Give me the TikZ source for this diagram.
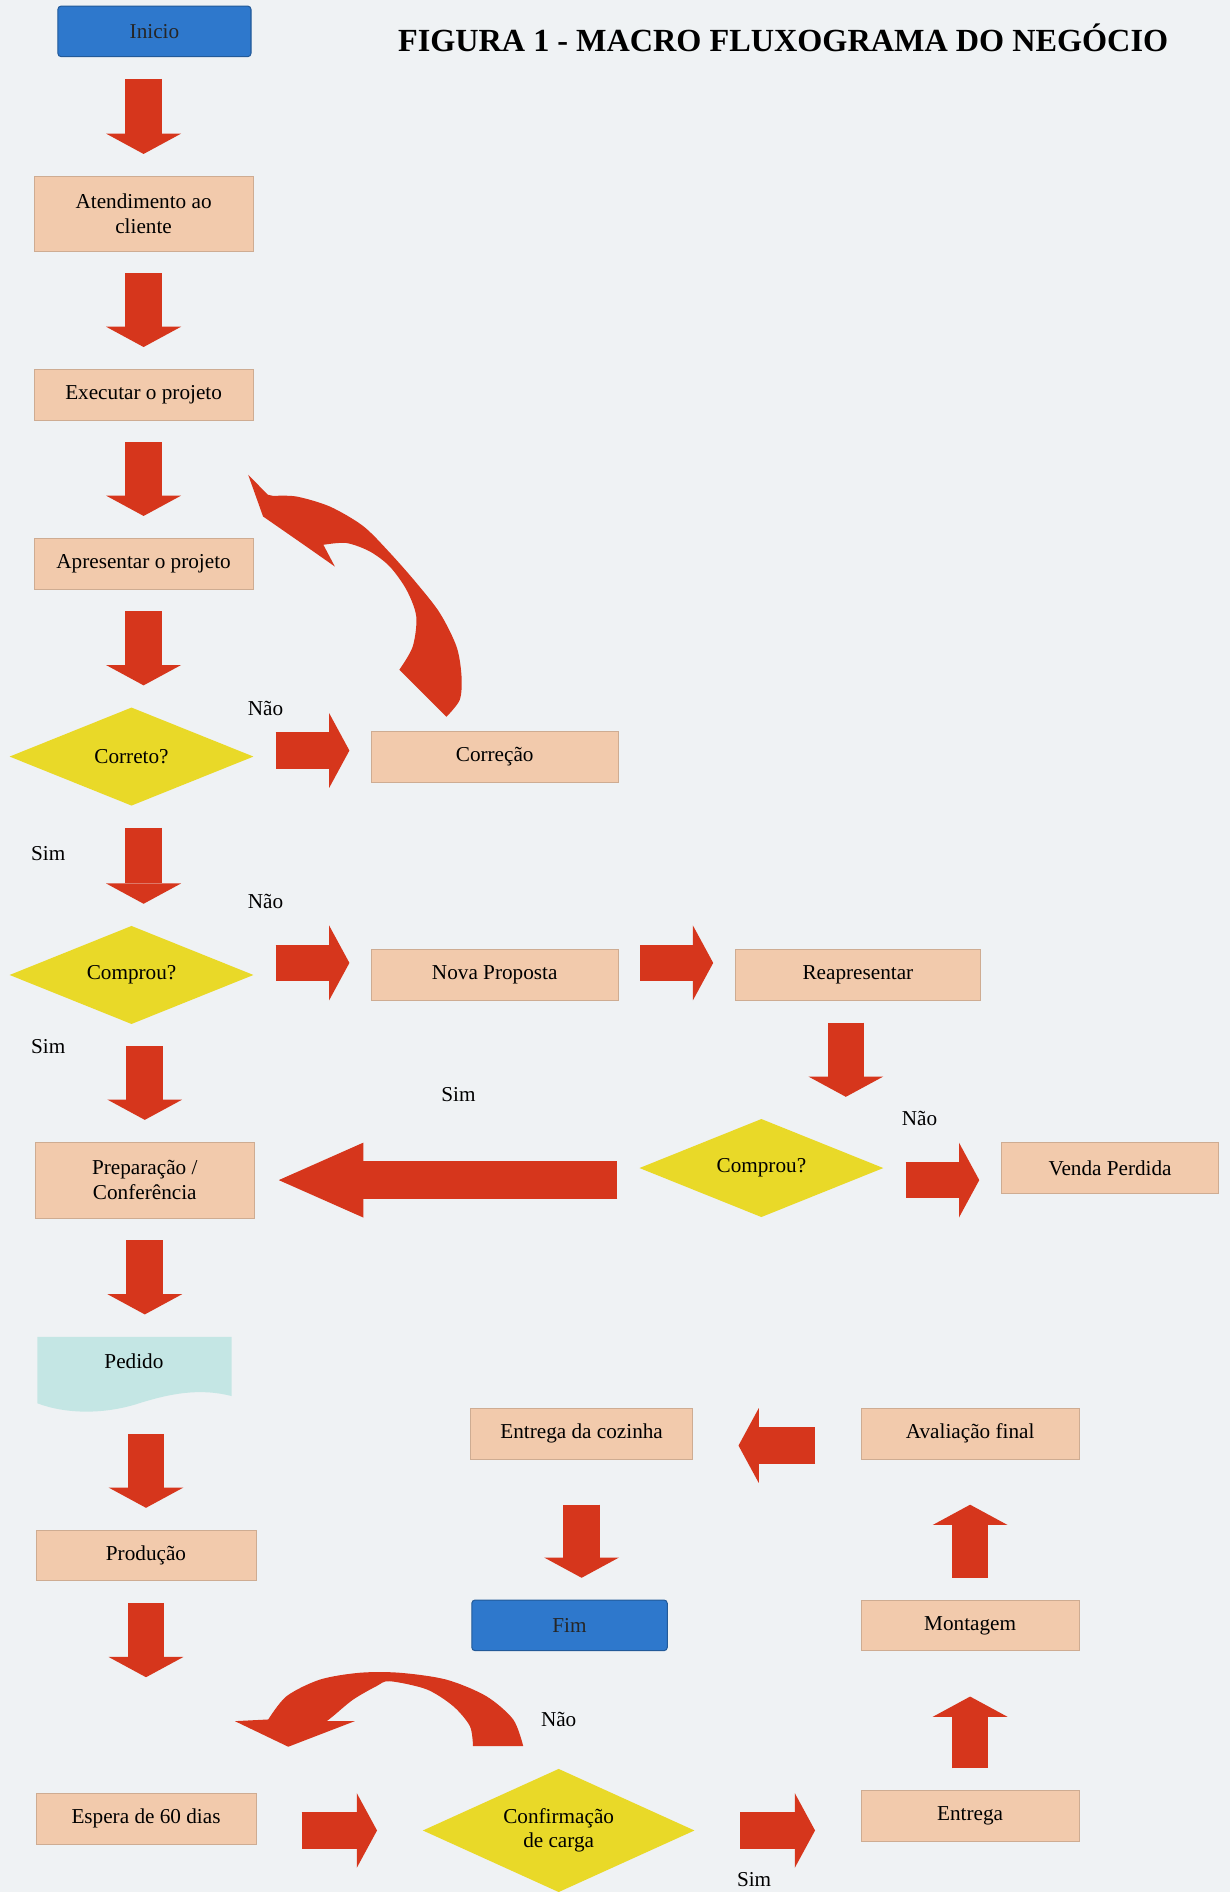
\documentclass[tikz,border=0pt]{standalone}
\usepackage{fontspec}
\setmainfont{Liberation Serif}
\usepackage{xcolor}
\usepackage{tikz}
\usetikzlibrary{shapes.geometric, arrows.meta, calc}

\definecolor{papel}{RGB}{239,242,244}
\definecolor{caixa}{RGB}{242,202,172}
\definecolor{azul}{RGB}{46,120,204}
\definecolor{amarelo}{RGB}{233,217,40}
\definecolor{vermelho}{RGB}{214,54,28}
\definecolor{ciano}{RGB}{196,230,228}

\tikzset{
  etapa/.style={rectangle, fill=caixa, draw=caixa!85!black, line width=0.3pt, minimum width=4.55cm, minimum height=1.05cm, align=center, inner sep=2pt, outer sep=0pt},
  terminal/.style={rectangle, rounded corners=2pt, fill=azul, draw=azul!75!black, line width=0.6pt, minimum width=4cm, minimum height=1.05cm, outer sep=0pt, text=black!85},
  decisao/.style={diamond, aspect=2.5, fill=amarelo, minimum width=5.05cm, minimum height=2.03cm, align=center, inner sep=0pt, outer sep=0pt},
  rotulo/.style={inner sep=0pt},
  seta/.style={draw=vermelho, line width=0.76cm, -{Triangle[width=1.55cm, length=0.42cm, line width=0pt]}, shorten <=0.46cm, shorten >=0.46cm},
  setalonga/.style={seta, shorten <=0.95cm, shorten >=0.95cm},
  setagrande/.style={draw=vermelho, line width=0.8cm, -{Triangle[width=1.55cm, length=1.75cm, line width=0pt]}, shorten <=0.46cm, shorten >=0.5cm},
}

\begin{document}
\begin{tikzpicture}[x=0.025cm, y=-0.025cm, font=\fontsize{12.5}{14.5}\selectfont]
    % Fundo
    \fill[papel] (0,0) rectangle (1019,1568);
    \useasboundingbox (0,0) rectangle (1019,1568);

    % Titulo
    \node[font=\fontsize{19}{22}\selectfont\bfseries] (titulo) at (649,31) {FIGURA 1 - MACRO FLUXOGRAMA DO NEGÓCIO};

    % Coluna da esquerda
    \node[terminal] (inicio) at (128,26) {Inicio};
    \node[etapa, minimum height=1.55cm] (atend) at (119,177) {Atendimento ao\\cliente};
    \node[etapa] (executar) at (119,327) {Executar o projeto};
    \node[etapa] (apresentar) at (119,467) {Apresentar o projeto};
    \node[decisao] (correto) at (109,627) {Correto?};
    \node[decisao] (comprou) at (109,808) {Comprou?};
    \node[etapa, minimum height=1.575cm] (prep) at (120,978) {Preparação /\\Conferência};
    \fill[ciano] (31,1108) -- (192,1108) -- (192,1157) .. controls (165,1150) and (140,1155) .. (112,1164) .. controls (85,1172) and (55,1172) .. (31,1163) -- cycle; % folha do pedido
    \node[rotulo, minimum width=4.025cm, minimum height=1cm] (pedido) at (111,1128) {Pedido};
    \node[etapa] (producao) at (121,1289) {Produção};
    \coordinate (prodfim) at (121,1390);
    \node[etapa] (espera) at (121,1507) {Espera de 60 dias};

    % Ramos da direita
    \node[etapa, minimum width=5.1cm] (correcao) at (410,627) {Correção};
    \node[etapa, minimum width=5.1cm] (nova) at (410,808) {Nova Proposta};
    \node[etapa, minimum width=5.075cm] (reap) at (711,808) {Reapresentar};
    \node[decisao] (comprou2) at (631,968) {Comprou?};
    \node[etapa, minimum width=4.5cm] (venda) at (920,968) {Venda Perdida};

    % Parte de baixo
    \node[decisao, aspect=2.2, minimum width=5.625cm, minimum height=2.55cm] (confirm) at (463,1517) {Confirmação\\de carga};
    \node[etapa, minimum width=4.525cm] (entrega) at (804,1505) {Entrega};
    \node[etapa, minimum width=4.525cm] (montagem) at (804,1347) {Montagem};
    \node[etapa, minimum width=4.525cm] (aval) at (804,1188) {Avaliação final};
    \node[etapa, minimum width=4.6cm] (ecoz) at (482,1188) {Entrega da cozinha};
    \node[terminal, minimum width=4.05cm] (fim) at (472,1347) {Fim};

    % Setas
    \draw[seta] (inicio.south -| atend) -- (atend.north);
    \draw[seta] (atend) -- (executar);
    \draw[seta] (executar) -- (apresentar);
    \draw[seta] (apresentar.south) -- (apresentar.south |- correto.north);
    \draw[seta] (correto.south -| apresentar) -- (comprou.north -| apresentar);
    \draw[seta] (comprou.south -| prep) -- (prep.north);
    \draw[seta] ($(correto.east)+(0,-5)$) -- ($(correcao.west)+(0,-5)$);
    \draw[seta] ($(comprou.east)+(0,-10)$) -- ($(nova.west)+(0,-10)$);
    \draw[seta] ($(nova.east)+(0,-10)$) -- ($(reap.west)+(0,-10)$);
    \draw[seta] ([xshift=-0.25cm]reap.south) -- ([xshift=-0.25cm]reap.south |- comprou2.north);
    \draw[seta] ($(comprou2.east)+(0,10)$) -- ($(venda.west)+(0,10)$);
    \draw[setagrande] (comprou2.west |- prep) -- (prep.east);
    \draw[seta] (prep.south) -- (prep.south |- pedido.north);
    \draw[seta, shorten <=1cm] (pedido.south -| producao) -- (producao.north);
    \draw[seta, shorten >=0pt] (producao.south) -- (prodfim);
    \draw[setalonga] (espera.east |- confirm) -- (confirm.west);
    \draw[setalonga] (confirm.east) -- (confirm -| entrega.west);
    \draw[seta, shorten >=0.95cm] (entrega.north) -- (montagem.south);
    \draw[seta, shorten >=0.95cm] (montagem.north) -- (aval.south);
    \draw[setalonga] ($(aval.west)+(0,10)$) -- ($(ecoz.east)+(0,10)$);
    \draw[seta, shorten <=0.95cm] (ecoz.south) -- (ecoz.south |- fim.north);

    % Setas curvas
    \fill[vermelho] (205.7,393.5) -- (222,410)
        -- plot[smooth] coordinates {(226.5,411) (245.8,411.5) (273.4,419.8) (301,436) (323,458) (345,483) (364.5,508) (378.4,536) (382.5,560.6) (381,580) (370,594)}
        -- plot[smooth] coordinates {(331,555) (342,536) (345,511) (337,489) (323,469.5) (306.5,457) (287,450) (268,451.5)}
        -- (277.5,469.5) -- (254,453) -- (218,428) -- cycle;
    \fill[vermelho] (194.7,1426.4)
        -- plot[smooth] coordinates {(222.3,1425) (237.5,1405.7) (265,1392) (298,1386.3) (331.4,1386.3) (370,1392) (403,1405.7) (425.3,1425) (433.6,1447)}
        -- plot[smooth] coordinates {(392,1447) (389.4,1430.5) (375.6,1414) (353.5,1400) (323,1393.3) (312,1397.4) (292.7,1408.5) (276,1422.3) (270.7,1426.4)}
        -- (294,1426.4) -- (238.9,1447.6) -- cycle;

    % Rotulos
    \node[rotulo] (nao1) at (220,587) {Não};
    \node[rotulo] (sim1) at (40,707) {Sim};
    \node[rotulo] (nao2) at (220,747) {Não};
    \node[rotulo] (sim2) at (40,867) {Sim};
    \node[rotulo] (sim3) at (380,907) {Sim};
    \node[rotulo] (nao3) at (762,927) {Não};
    \node[rotulo] (nao4) at (463,1425) {Não};
    \node[rotulo] (sim4) at (625,1558) {Sim};
\end{tikzpicture}
\end{document}
